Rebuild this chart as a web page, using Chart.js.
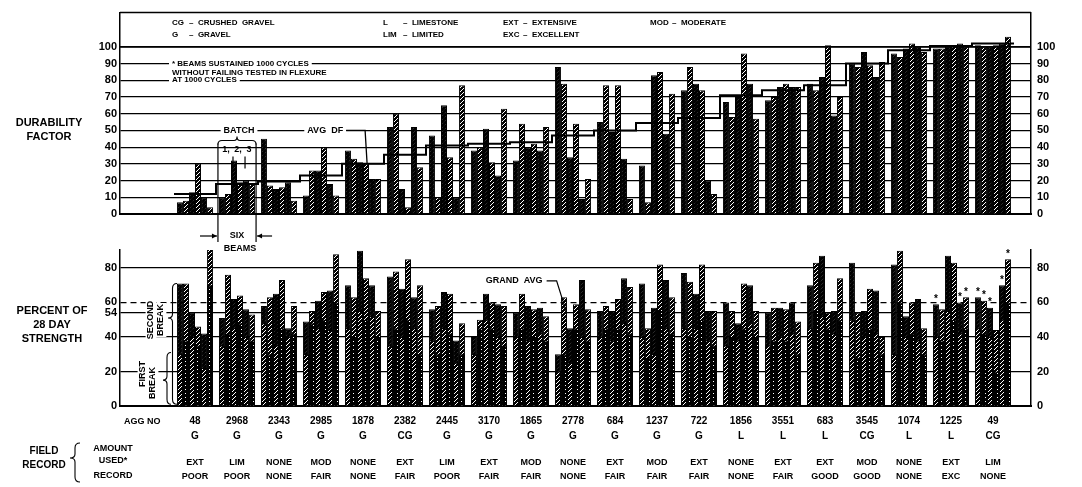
<!DOCTYPE html>
<html><head><meta charset="utf-8">
<script src="https://cdn.jsdelivr.net/npm/chart.js@4.4.0/dist/chart.umd.min.js"></script>
<style>
html,body{margin:0;padding:0;background:#fff;}
#wrap{position:relative;width:1082px;height:487px;background:#fff;}
canvas{position:absolute;left:0;top:0;}
</style></head><body>
<div id="wrap"><canvas id="topc" width="1082" height="487"></canvas><canvas id="botc" width="1082" height="487"></canvas></div>
<script>
// ---------- DATA ----------
const aggNo = ['48','2968','2343','2985','1878','2382','2445','3170','1865','2778','684','1237','722','1856','3551','683','3545','1074','1225','49'];
const aggType = ['G','G','G','G','G','CG','G','G','G','G','G','G','G','L','L','L','CG','L','L','CG'];
const amountUsed = ['EXT','LIM','NONE','MOD','NONE','EXT','LIM','EXT','MOD','NONE','EXT','MOD','EXT','NONE','EXT','EXT','MOD','NONE','EXT','LIM'];
const fieldRecord = ['POOR','POOR','NONE','FAIR','NONE','FAIR','POOR','FAIR','FAIR','NONE','FAIR','FAIR','FAIR','NONE','FAIR','GOOD','GOOD','NONE','EXC','NONE'];

const dfTicks = [0,10,20,30,40,50,60,70,80,90,100];
const strengthTicksLeft = [0,20,40,54,60,80];
const strengthTicksRight = [0,20,40,60,80];

// Durability factor per beam (6 beams per aggregate)
const dfBeam1 = [7,10,45,11,38,52,47,38,32,88,55,29,74,67,68,78,90,96,99,101];
const dfBeam2 = [8,12,17,26,33,60,10,40,54,78,77,7,88,58,70,74,88,94,99,100];
const dfBeam3 = [13,32,15,26,31,15,65,51,40,34,49,83,78,70,76,82,97,99,100,100];
const dfBeam4 = [30,19,16,40,30,4,34,31,42,54,77,85,74,96,78,101,89,102,101,101];
const dfBeam5 = [10,20,19,18,21,52,10,23,38,9,33,48,20,78,76,59,82,100,102,102];
const dfBeam6 = [4,18,8,11,21,28,77,63,52,21,9,72,12,57,76,70,91,97,100,106];
const avgDF = [12,18,19.5,23,30,35.5,41,42,43,47,50,54.5,57.5,71,74,77,90,98,100.5,102];

// Percent of 28 day strength: second break (total) and first break per beam
const secondBeam1 = [71,51,58,49,70,75,56,40,54,30,55,71,77,60,54,70,83,82,59,63];
const secondBeam2 = [71,76,63,55,63,78,58,50,65,63,58,45,72,55,57,83,54,90,56,61];
const secondBeam3 = [54,62,65,61,90,68,66,65,58,45,55,57,65,48,57,87,55,52,87,57];
const secondBeam4 = [46,64,73,66,74,85,65,60,56,59,62,82,82,71,56,54,68,60,83,44];
const secondBeam5 = [42,56,45,67,70,63,38,59,57,73,74,73,55,70,60,55,67,62,60,70];
const secondBeam6 = [93,53,58,88,55,70,48,58,52,56,69,63,55,55,49,74,40,45,63,85];
const firstBeam1 = [30,35,48,30,45,35,38,30,40,20,40,40,45,35,35,45,50,30,40,45];
const firstBeam2 = [38,42,30,48,40,45,30,45,45,30,45,28,40,40,38,55,28,60,38,42];
const firstBeam3 = [40,45,35,45,55,40,45,50,38,25,38,30,45,38,40,52,40,40,55,40];
const firstBeam4 = [35,48,45,50,50,50,42,45,40,45,45,55,50,45,38,45,45,42,50,20];
const firstBeam5 = [22,40,40,44,52,45,25,40,42,40,48,45,38,48,42,42,42,38,42,50];
const firstBeam6 = [70,38,42,60,40,30,30,35,38,38,42,42,35,40,30,50,30,30,45,60];

// beams that sustained 1000 cycles (asterisks)
const starGroup = [18,18,18,19,19,19,19,19];
const starBeam  = [0,4,5,0,1,2,4,5];

// ---------- STYLE / LAYOUT ----------
const FONT = '"Liberation Sans", Arial, sans-serif';
const X_MIN = -1.786, X_MAX = 19.905;
const dfBeams = [dfBeam1, dfBeam2, dfBeam3, dfBeam4, dfBeam5, dfBeam6];
const secondBeams = [secondBeam1, secondBeam2, secondBeam3, secondBeam4, secondBeam5, secondBeam6];
const firstBeams = [firstBeam1, firstBeam2, firstBeam3, firstBeam4, firstBeam5, firstBeam6];

function stripe(ctx, bg, fg, lw, step) {
  const c = document.createElement('canvas'); c.width = step; c.height = step;
  const g = c.getContext('2d');
  g.fillStyle = bg; g.fillRect(0, 0, step, step);
  g.strokeStyle = fg; g.lineWidth = lw;
  g.beginPath();
  g.moveTo(-1, step + 1); g.lineTo(step + 1, -1);
  g.moveTo(-1, 1); g.lineTo(1, -1);
  g.moveTo(step - 1, step + 1); g.lineTo(step + 1, step - 1);
  g.stroke();
  return ctx.createPattern(c, 'repeat');
}
function dots(ctx) {
  const c = document.createElement('canvas'); c.width = 4; c.height = 4;
  const g = c.getContext('2d');
  g.fillStyle = '#000'; g.fillRect(0, 0, 4, 4);
  g.fillStyle = '#fff'; g.fillRect(1, 1, 1, 1);
  return ctx.createPattern(c, 'repeat');
}

function txt(ctx, s, x, y, o = {}) {
  const size = o.size || 9;
  ctx.font = 'bold ' + size + 'px ' + FONT;
  ctx.textAlign = o.align || 'center';
  ctx.textBaseline = 'middle';
  if (o.bg) {
    const w = ctx.measureText(s).width;
    const x0 = o.align === 'left' ? x : (o.align === 'right' ? x - w : x - w / 2);
    const p = o.pad == null ? 3 : o.pad;
    ctx.fillStyle = '#fff';
    ctx.fillRect(x0 - p, y - size * 0.6, w + 2 * p, size * 1.2);
  }
  ctx.fillStyle = '#000';
  ctx.fillText(s, x, y);
}
function line(ctx, pts, w) {
  ctx.beginPath(); ctx.lineWidth = w || 1.2; ctx.strokeStyle = '#000';
  ctx.moveTo(pts[0][0], pts[0][1]);
  for (let i = 1; i < pts.length; i++) ctx.lineTo(pts[i][0], pts[i][1]);
  ctx.stroke();
}
function vBrace(ctx, xEnd, xTip, y1, yTip, y2) {
  const xm = (xEnd + xTip) / 2;
  ctx.beginPath(); ctx.lineWidth = 1.1; ctx.strokeStyle = '#000';
  ctx.moveTo(xEnd, y1);
  ctx.quadraticCurveTo(xm, y1, xm, y1 + 5);
  ctx.lineTo(xm, yTip - 4);
  ctx.quadraticCurveTo(xm, yTip, xTip, yTip);
  ctx.quadraticCurveTo(xm, yTip, xm, yTip + 4);
  ctx.lineTo(xm, y2 - 5);
  ctx.quadraticCurveTo(xm, y2, xEnd, y2);
  ctx.stroke();
}
function hBrace(ctx, x1, xTip, x2, yEnd, yTip) {
  const ym = (yEnd + yTip) / 2;
  ctx.beginPath(); ctx.lineWidth = 1.1; ctx.strokeStyle = '#000';
  ctx.moveTo(x1, yEnd);
  ctx.quadraticCurveTo(x1, ym, x1 + 4, ym);
  ctx.lineTo(xTip - 3, ym);
  ctx.quadraticCurveTo(xTip, ym, xTip, yTip);
  ctx.quadraticCurveTo(xTip, ym, xTip + 3, ym);
  ctx.lineTo(x2 - 4, ym);
  ctx.quadraticCurveTo(x2, ym, x2, yEnd);
  ctx.stroke();
}
function arrow(ctx, x1, x2, y) {
  line(ctx, [[x1, y], [x2, y]], 1.2);
  const d = x2 > x1 ? -1 : 1;
  ctx.beginPath(); ctx.fillStyle = '#000';
  ctx.moveTo(x2, y); ctx.lineTo(x2 + d * 5, y - 2.5); ctx.lineTo(x2 + d * 5, y + 2.5); ctx.closePath(); ctx.fill();
}

Chart.defaults.font.family = FONT;
Chart.defaults.color = '#000';

// ---------- TOP CHART ----------
const topCtx = document.getElementById('topc').getContext('2d');
const topPats = [stripe(topCtx, '#fff', '#000', 2.7, 4), stripe(topCtx, '#000', '#fff', 1.0, 4)];

const topDatasets = dfBeams.map((arr, k) => ({
  type: 'bar',
  data: arr.map((v, i) => ({x: i, y: v})),
  backgroundColor: topPats[k % 2],
  borderColor: '#000', borderWidth: 1,
  categoryPercentage: 0.86, barPercentage: 1.0,
  order: 2
}));
topDatasets.push({
  type: 'line',
  data: avgDF.map((v, i) => ({x: i - 0.5, y: v})).concat([{x: avgDF.length - 0.5, y: avgDF[avgDF.length - 1]}]),
  stepped: true, borderColor: '#000', borderWidth: 2, pointRadius: 0, fill: false, order: 0
});

const topAnno = {
  id: 'topAnno',
  afterDraw(chart) {
    const {ctx, chartArea: a, scales: {x, y}} = chart;
    ctx.save();
    line(ctx, [[a.left, a.top], [a.right, a.top]], 1.5);
    line(ctx, [[a.left, y.getPixelForValue(100)], [a.right, y.getPixelForValue(100)]], 1.6);
    // legend
    const r1 = a.top + 10, r2 = a.top + 22;
    const cols = [a.left + 52, a.left + 263, a.left + 383, a.left + 530];
    txt(ctx, 'CG', cols[0], r1, {align: 'left', size: 8});
    txt(ctx, '–  CRUSHED  GRAVEL', cols[0] + 17, r1, {align: 'left', size: 8});
    txt(ctx, 'G', cols[0], r2, {align: 'left', size: 8});
    txt(ctx, '–  GRAVEL', cols[0] + 17, r2, {align: 'left', size: 8});
    txt(ctx, 'L', cols[1], r1, {align: 'left', size: 8});
    txt(ctx, '–  LIMESTONE', cols[1] + 20, r1, {align: 'left', size: 8});
    txt(ctx, 'LIM', cols[1], r2, {align: 'left', size: 8});
    txt(ctx, '–  LIMITED', cols[1] + 20, r2, {align: 'left', size: 8});
    txt(ctx, 'EXT', cols[2], r1, {align: 'left', size: 8});
    txt(ctx, '–  EXTENSIVE', cols[2] + 20, r1, {align: 'left', size: 8});
    txt(ctx, 'EXC', cols[2], r2, {align: 'left', size: 8});
    txt(ctx, '–  EXCELLENT', cols[2] + 20, r2, {align: 'left', size: 8});
    txt(ctx, 'MOD', cols[3], r1, {align: 'left', size: 8});
    txt(ctx, '–  MODERATE', cols[3] + 22, r1, {align: 'left', size: 8});
    // note
    const nx = a.left + 52;
    txt(ctx, '* BEAMS SUSTAINED 1000 CYCLES', nx, y.getPixelForValue(90), {align: 'left', size: 8, bg: true});
    txt(ctx, 'WITHOUT FAILING TESTED IN FLEXURE', nx, (y.getPixelForValue(90) + y.getPixelForValue(80)) / 2 + 1, {align: 'left', size: 8, bg: true, pad: 1});
    txt(ctx, 'AT 1000 CYCLES', nx, y.getPixelForValue(80), {align: 'left', size: 8, bg: true});
    // batch
    const m = k => chart.getDatasetMeta(k).data[1];
    const cx = x.getPixelForValue(1);
    const yb = y.getPixelForValue(50);
    txt(ctx, 'BATCH', cx + 2, yb, {size: 9, bg: true});
    const xl = m(0).x - m(0).width / 2 - 1, xr = m(5).x + m(5).width / 2 + 1;
    hBrace(ctx, xl, cx, xr, yb + 14, yb + 6);
    for (let b = 0; b < 3; b++) {
      const bx = (m(2 * b).x + m(2 * b + 1).x) / 2;
      txt(ctx, ['1,', '2,', '3'][b], bx + (b < 2 ? 1 : 0), yb + 19, {size: 9});
    }
    line(ctx, [[xl, yb + 13], [xl, 242]], 1.2);
    line(ctx, [[xr, yb + 13], [xr, 242]], 1.2);
    line(ctx, [[(m(1).x + m(2).x) / 2 + 2, yb + 26], [(m(1).x + m(2).x) / 2 + 2, yb + 38]], 1.2);
    line(ctx, [[(m(3).x + m(4).x) / 2 + 2, yb + 26], [(m(3).x + m(4).x) / 2 + 2, yb + 38]], 1.2);
    // avg df
    const ax = x.getPixelForValue(3.1);
    txt(ctx, 'AVG  DF', ax, yb, {size: 9, bg: true});
    ctx.font = 'bold 9px ' + FONT;
    const aw = ctx.measureText('AVG  DF').width;
    const lx = x.getPixelForValue(4.05);
    line(ctx, [[ax + aw / 2 + 3, yb], [lx, yb], [lx + 2, y.getPixelForValue(30)]], 1.3);
    // left label
    txt(ctx, 'DURABILITY', 49, 123, {size: 11});
    txt(ctx, 'FACTOR', 49, 137, {size: 11});
    ctx.restore();
  }
};

new Chart(topCtx, {
  data: {datasets: topDatasets},
  options: {
    responsive: false, animation: false, devicePixelRatio: 1, events: [],
    layout: {padding: {top: 8, bottom: 273, left: 0, right: 0}},
    plugins: {legend: {display: false}, tooltip: {enabled: false}},
    scales: {
      x: {type: 'linear', min: X_MIN, max: X_MAX, offset: false, grid: {display: false, drawTicks: false, offset: false},
          border: {display: true, color: '#000', width: 2}, ticks: {display: false},
          afterFit: s => { s.height = 0; }},
      y: {type: 'linear', position: 'left', min: 0, max: 120.5,
          afterBuildTicks: s => { s.ticks = dfTicks.map(v => ({value: v})); },
          grid: {color: '#000', lineWidth: 1.2, drawTicks: false},
          border: {display: true, color: '#000', width: 1.5},
          ticks: {padding: 3, color: '#000', font: {size: 11, weight: 'bold'}},
          afterFit: s => { s.width = 120; }},
      yR: {type: 'linear', position: 'right', min: 0, max: 120.5,
          afterBuildTicks: s => { s.ticks = dfTicks.map(v => ({value: v})); },
          grid: {drawOnChartArea: false, drawTicks: false},
          border: {display: true, color: '#000', width: 1.5},
          ticks: {padding: 6, color: '#000', font: {size: 11, weight: 'bold'}},
          afterFit: s => { s.width = 51; }}
    }
  },
  plugins: [topAnno]
});

// ---------- BOTTOM CHART ----------
const botCtx = document.getElementById('botc').getContext('2d');
const botPats = [stripe(botCtx, '#fff', '#000', 2.7, 4), stripe(botCtx, '#000', '#fff', 1.0, 4)];
const darkPat = dots(botCtx);

const botDatasets = [];
for (let k = 0; k < 6; k++) {
  botDatasets.push({
    type: 'bar', stack: 'b' + k,
    data: secondBeams[k].map((v, i) => ({x: i, y: v})),
    backgroundColor: botPats[k % 2], borderColor: '#000', borderWidth: 1,
    categoryPercentage: 0.86, barPercentage: 1.0, order: 2
  });
  botDatasets.push({
    type: 'bar', stack: 'b' + k,
    data: firstBeams[k].map((v, i) => ({x: i, y: v})),
    backgroundColor: k % 2 ? darkPat : botPats[1], borderColor: '#000', borderWidth: 1,
    categoryPercentage: 0.86, barPercentage: 1.0, order: 1
  });
}

const botAnno = {
  id: 'botAnno',
  afterDraw(chart) {
    const {ctx, chartArea: a, scales: {x, y}} = chart;
    ctx.save();
    // six beams arrows
    const topMeta = k => chart.getDatasetMeta(2 * k).data[1];
    const xl = topMeta(0).x - topMeta(0).width / 2 - 1, xr = topMeta(5).x + topMeta(5).width / 2 + 1;
    arrow(ctx, xl - 18, xl - 1, 236);
    arrow(ctx, xr + 16, xr + 1, 236);
    txt(ctx, 'SIX', (xl + xr) / 2, 236, {size: 9});
    txt(ctx, 'BEAMS', (xl + xr) / 2 + 3, 249, {size: 9});
    // left labels
    txt(ctx, 'PERCENT OF', 52, 311, {size: 11});
    txt(ctx, '28 DAY', 52, 325, {size: 11});
    txt(ctx, 'STRENGTH', 52, 339, {size: 11});
    // break brackets
    const rot = (s, cx, cy) => {
      ctx.save(); ctx.translate(cx, cy); ctx.rotate(-Math.PI / 2);
      txt(ctx, s, 0, 0, {size: 9, bg: true, pad: 1}); ctx.restore();
    };
    rot('SECOND', 151, 320); rot('BREAK', 161, 320);
    rot('FIRST', 143, 374); rot('BREAK', 153, 383);
    vBrace(ctx, 177, 168, y.getPixelForValue(71), y.getPixelForValue(51), y.getPixelForValue(1));
    vBrace(ctx, 171, 163, y.getPixelForValue(31), y.getPixelForValue(15), y.getPixelForValue(1));
    // grand avg
    const gy = y.getPixelForValue(72.5);
    const gx = x.getPixelForValue(7.6);
    txt(ctx, 'GRAND  AVG', gx, gy, {size: 9});
    ctx.font = 'bold 9px ' + FONT;
    const gw = ctx.measureText('GRAND  AVG').width;
    const ex = gx + gw / 2 + 4;
    line(ctx, [[ex, gy], [ex + 10, gy], [ex + 20, y.getPixelForValue(54)]], 1.2);
    // asterisks
    for (let i = 0; i < starGroup.length; i++) {
      const el = chart.getDatasetMeta(2 * starBeam[i]).data[starGroup[i]];
      txt(ctx, '*', el.x, el.y - 5, {size: 10});
    }
    // table
    txt(ctx, 'AGG NO', a.left + 4, 422, {size: 9, align: 'left'});
    txt(ctx, 'FIELD', 44, 451, {size: 10});
    txt(ctx, 'RECORD', 44, 465, {size: 10});
    vBrace(ctx, 80, 70, 443, 458, 482);
    txt(ctx, 'AMOUNT', 113, 449, {size: 9});
    txt(ctx, 'USED*', 113, 461, {size: 9});
    txt(ctx, 'RECORD', 113, 476, {size: 9});
    for (let i = 0; i < aggNo.length; i++) {
      const px = x.getPixelForValue(i);
      txt(ctx, amountUsed[i], px, 463, {size: 9});
      txt(ctx, fieldRecord[i], px, 477, {size: 9});
    }
    ctx.restore();
  }
};

new Chart(botCtx, {
  data: {datasets: botDatasets},
  options: {
    responsive: false, animation: false, devicePixelRatio: 1, events: [],
    layout: {padding: {top: 250, bottom: 0, left: 0, right: 0}},
    plugins: {legend: {display: false}, tooltip: {enabled: false}},
    scales: {
      x: {type: 'linear', min: X_MIN, max: X_MAX, stacked: true, offset: false,
          grid: {display: false, drawTicks: false, offset: false},
          border: {display: true, color: '#000', width: 2},
          ticks: {display: true, stepSize: 1, includeBounds: false, autoSkip: false,
                  maxRotation: 0, minRotation: 0, padding: 8, color: '#000',
                  font: {size: 10, weight: 'bold', lineHeight: 1.5},
                  callback: v => { const r = Math.round(v); return (Math.abs(v - r) < 1e-6 && r >= 0 && r < aggNo.length) ? [aggNo[r], aggType[r]] : ''; }},
          afterFit: s => { s.height = 81; }},
      y: {type: 'linear', position: 'left', min: 0, max: 90.4, stacked: false,
          afterBuildTicks: s => { s.ticks = strengthTicksLeft.map(v => ({value: v})); },
          grid: {color: '#000', lineWidth: 1.2, drawTicks: false},
          border: {display: true, color: '#000', width: 1.5,
                   dash: c => (c.tick && c.tick.value === 60) ? [6, 4] : []},
          ticks: {padding: 3, color: '#000', font: {size: 11, weight: 'bold'}},
          afterFit: s => { s.width = 120; }},
      yR: {type: 'linear', position: 'right', min: 0, max: 90.4,
          afterBuildTicks: s => { s.ticks = strengthTicksRight.map(v => ({value: v})); },
          grid: {drawOnChartArea: false, drawTicks: false},
          border: {display: true, color: '#000', width: 1.5},
          ticks: {padding: 6, color: '#000', font: {size: 11, weight: 'bold'}},
          afterFit: s => { s.width = 51; }}
    }
  },
  plugins: [botAnno]
});
</script>
</body></html>
